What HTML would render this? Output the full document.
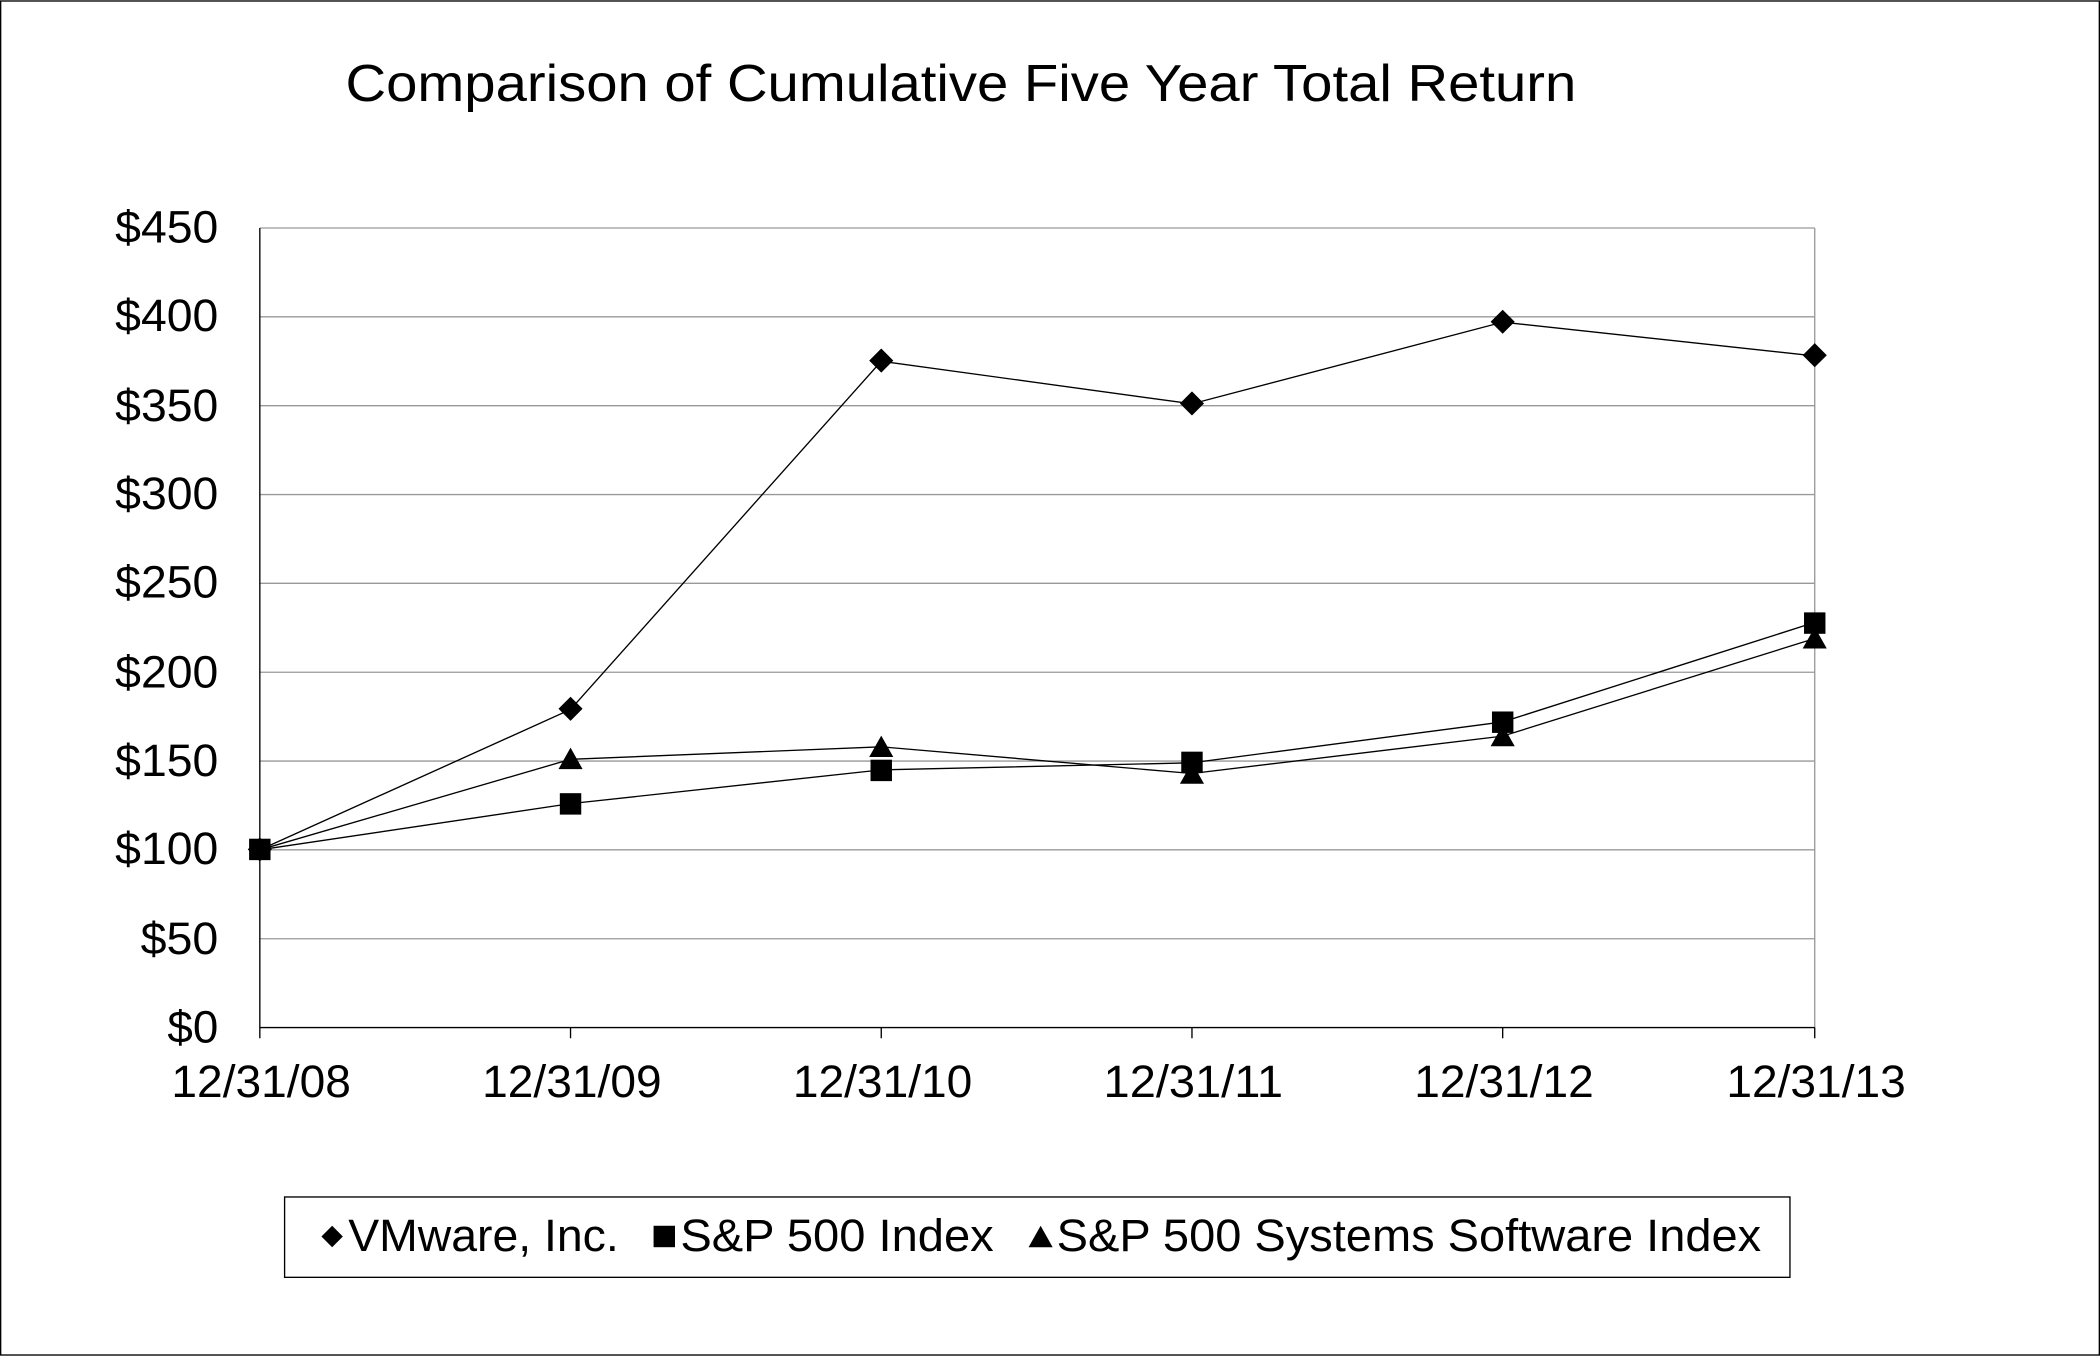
<!DOCTYPE html>
<html><head><meta charset="utf-8"><style>html,body{margin:0;padding:0;background:#fff}svg{display:block}</style></head>
<body>
<svg width="2100" height="1356" viewBox="0 0 1568 1012" xmlns="http://www.w3.org/2000/svg" font-family="Liberation Sans, Arial, sans-serif">
<rect x="0.5" y="0.5" width="1567" height="1011" fill="#fff" stroke="#000" stroke-width="1"/>
<text x="258" y="75" font-size="39" textLength="919" lengthAdjust="spacingAndGlyphs">Comparison of Cumulative Five Year Total Return</text>
<g stroke="#999" stroke-width="1">
<line x1="194" y1="170" x2="1355" y2="170"/>
<line x1="194" y1="236.3" x2="1355" y2="236.3"/>
<line x1="194" y1="302.7" x2="1355" y2="302.7"/>
<line x1="194" y1="369" x2="1355" y2="369"/>
<line x1="194" y1="435.3" x2="1355" y2="435.3"/>
<line x1="194" y1="501.7" x2="1355" y2="501.7"/>
<line x1="194" y1="568" x2="1355" y2="568"/>
<line x1="194" y1="634.3" x2="1355" y2="634.3"/>
<line x1="194" y1="700.7" x2="1355" y2="700.7"/>
<line x1="1355" y1="170" x2="1355" y2="767"/>
</g>
<g stroke="#000" stroke-width="1">
<line x1="194" y1="170" x2="194" y2="767"/>
<line x1="194" y1="767" x2="1355" y2="767"/>
<line x1="194" y1="767" x2="194" y2="775"/>
<line x1="426" y1="767" x2="426" y2="775"/>
<line x1="658" y1="767" x2="658" y2="775"/>
<line x1="890" y1="767" x2="890" y2="775"/>
<line x1="1122" y1="767" x2="1122" y2="775"/>
<line x1="1355" y1="767" x2="1355" y2="775"/>
</g>
<g font-size="34" text-anchor="end">
<text x="163" y="181" textLength="77" lengthAdjust="spacingAndGlyphs">$450</text><text x="163" y="247" textLength="77" lengthAdjust="spacingAndGlyphs">$400</text><text x="163" y="314" textLength="77" lengthAdjust="spacingAndGlyphs">$350</text>
<text x="163" y="380" textLength="77" lengthAdjust="spacingAndGlyphs">$300</text><text x="163" y="446" textLength="77" lengthAdjust="spacingAndGlyphs">$250</text><text x="163" y="513" textLength="77" lengthAdjust="spacingAndGlyphs">$200</text>
<text x="163" y="579" textLength="77" lengthAdjust="spacingAndGlyphs">$150</text><text x="163" y="645" textLength="77" lengthAdjust="spacingAndGlyphs">$100</text><text x="163" y="712" textLength="58" lengthAdjust="spacingAndGlyphs">$50</text>
<text x="163" y="778" textLength="38" lengthAdjust="spacingAndGlyphs">$0</text>
</g>
<g font-size="34" text-anchor="middle">
<text x="195" y="819" textLength="134" lengthAdjust="spacingAndGlyphs">12/31/08</text><text x="427" y="819" textLength="134" lengthAdjust="spacingAndGlyphs">12/31/09</text><text x="659" y="819" textLength="134" lengthAdjust="spacingAndGlyphs">12/31/10</text>
<text x="891" y="819" textLength="134" lengthAdjust="spacingAndGlyphs">12/31/11</text><text x="1123" y="819" textLength="134" lengthAdjust="spacingAndGlyphs">12/31/12</text><text x="1356" y="819" textLength="134" lengthAdjust="spacingAndGlyphs">12/31/13</text>
</g>
<g fill="none" stroke="#000" stroke-width="1">
<polyline points="194,634.3 426,529.5 658,269.5 890,301.3 1122,240.3 1355,265.5"/>
<polyline points="194,634.3 426,599.8 658,574.6 890,569.3 1122,538.8 1355,464.5"/>
<polyline points="194,634.3 426,566.7 658,557.4 890,577.3 1122,549.4 1355,476.5"/>
</g>
<g fill="#000">
<path d="M194,625 l9,9 l-9,9 l-9,-9z M426,520 l9,9 l-9,9 l-9,-9z M658,260 l9,9 l-9,9 l-9,-9z M890,292 l9,9 l-9,9 l-9,-9z M1122,231 l9,9 l-9,9 l-9,-9z M1355,256 l9,9 l-9,9 l-9,-9z"/>
<rect x="186" y="626" width="16" height="16"/><rect x="418" y="592" width="16" height="16"/>
<rect x="650" y="567" width="16" height="16"/><rect x="882" y="561" width="16" height="16"/>
<rect x="1114" y="531" width="16" height="16"/><rect x="1347" y="457" width="16" height="16"/>
<path d="M426,558 l9,16 h-18z M658,549 l9,16 h-18z M890,569 l9,16 h-18z M1122,541 l9,16 h-18z M1355,468 l9,16 h-18z"/>
</g>
<rect x="212.5" y="893.5" width="1124" height="60" fill="#fff" stroke="#000"/>
<g font-size="34">
<path d="M248,915 l8,8 l-8,8 l-8,-8z" fill="#000"/>
<text x="260" y="934" textLength="202" lengthAdjust="spacingAndGlyphs">VMware, Inc.</text>
<rect x="488" y="915" width="16" height="16" fill="#000"/>
<text x="508" y="934" textLength="234" lengthAdjust="spacingAndGlyphs">S&amp;P 500 Index</text>
<path d="M777,915 l9,16 h-18z" fill="#000"/>
<text x="789" y="934" textLength="526" lengthAdjust="spacingAndGlyphs">S&amp;P 500 Systems Software Index</text>
</g>
</svg>
</body></html>
